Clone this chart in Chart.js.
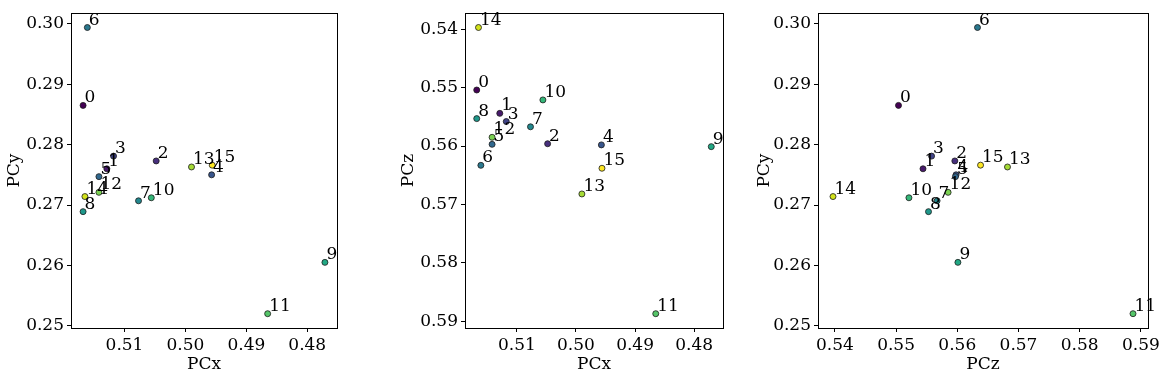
<!DOCTYPE html>
<html>
<head>
<meta charset="utf-8">
<script src="https://cdn.jsdelivr.net/npm/chart.js@4"></script>
<style>
  body { margin: 0; background: #fff; width: 1165px; height: 381px; position: relative; overflow: hidden; }
  .panel { position: absolute; top: 0; height: 381px; }
</style>
</head>
<body>
<div class="panel" style="left:0px;width:345px"><canvas id="c1" width="345" height="381"></canvas></div>
<div class="panel" style="left:380px;width:350px"><canvas id="c2" width="350" height="381"></canvas></div>
<div class="panel" style="left:745px;width:420px"><canvas id="c3" width="420" height="381"></canvas></div>
<script>
// point ids 0..15
var ids = [0, 1, 2, 3, 4, 5, 6, 7, 8, 9, 10, 11, 12, 13, 14, 15];
var pcx = [0.5168, 0.5129, 0.5048, 0.5118, 0.4957, 0.5142, 0.5161, 0.5077,
           0.5168, 0.4771, 0.5056, 0.4865, 0.5142, 0.4990, 0.5165, 0.4956];
var pcy = [0.2865, 0.2760, 0.2773, 0.2781, 0.2750, 0.2747, 0.2994, 0.2707,
           0.2689, 0.2605, 0.2712, 0.2520, 0.2721, 0.2763, 0.2714, 0.2766];
var pcz = [0.5504, 0.5544, 0.5596, 0.5558, 0.5598, 0.5597, 0.5633, 0.5567,
           0.5553, 0.5601, 0.5521, 0.5887, 0.5585, 0.5682, 0.5397, 0.5638];

var pcxTicks = [0.51, 0.50, 0.49, 0.48];
var pcyTicks = [0.25, 0.26, 0.27, 0.28, 0.29, 0.30];
var pczTicks = [0.54, 0.55, 0.56, 0.57, 0.58, 0.59];

// viridis sampled at i/15
var viridis = ['#440154', '#481a6c', '#472f7d', '#414487', '#39568c', '#31688e',
               '#2a788e', '#23888e', '#1f988b', '#22a884', '#35b779', '#54c568',
               '#7ad151', '#a5db36', '#d2e21b', '#fde725'];

var FONT = "'DejaVu Serif', serif";

function limits(arr) {
  var lo = Math.min.apply(null, arr), hi = Math.max.apply(null, arr);
  var m = (hi - lo) * 0.05;
  return [lo - m, hi + m];
}

var labelPlugin = {
  id: 'pointLabels',
  afterDatasetsDraw: function(chart) {
    var ctx = chart.ctx;
    var meta = chart.getDatasetMeta(0);
    ctx.save();
    ctx.fillStyle = '#000';
    ctx.font = '17px ' + FONT;
    ctx.textAlign = 'left';
    ctx.textBaseline = 'alphabetic';
    meta.data.forEach(function(pt, i) {
      ctx.fillText(String(ids[i]), pt.x + 1.5, pt.y - 3);
    });
    ctx.restore();
  }
};

var framePlugin = {
  id: 'frame',
  afterDraw: function(chart) {
    var a = chart.chartArea, ctx = chart.ctx;
    ctx.save();
    ctx.strokeStyle = '#000';
    ctx.lineWidth = 1;
    ctx.strokeRect(Math.round(a.left) + 0.5, Math.round(a.top) + 0.5,
                   Math.round(a.right - a.left), Math.round(a.bottom - a.top));
    ctx.restore();
  }
};

function makeScatter(id, xs, ys, xTicks, yTicks, xName, yName, opt) {
  var xl = limits(xs), yl = limits(ys);
  var pts = xs.map(function(v, i) { return { x: v, y: ys[i] }; });
  function axis(ticks, lim, name, reverse, horiz) {
    return {
      type: 'linear',
      reverse: reverse,
      min: lim[0],
      max: lim[1],
      afterBuildTicks: function(s) { s.ticks = ticks.map(function(v) { return { value: v }; }); },
      afterFit: function(s) {
        if (horiz) { s.height = opt.xHeight; } else { s.width = opt.yWidth; }
      },
      grid: { display: true, drawOnChartArea: false, drawTicks: true, tickLength: 4, color: '#000', lineWidth: 1 },
      border: { display: true, color: '#000', width: 1 },
      ticks: {
        padding: 3,
        color: '#000',
        autoSkip: false,
        maxRotation: 0,
        font: { family: FONT, size: 17 },
        callback: function(v) { return v.toFixed(2); }
      },
      title: {
        display: true,
        text: name,
        color: '#000',
        font: { family: FONT, size: 17, lineHeight: 1.2 },
        padding: horiz ? { top: 0, bottom: 6 } : { top: opt.yTitlePad, bottom: 0 }
      }
    };
  }
  return new Chart(document.getElementById(id), {
    type: 'scatter',
    data: {
      datasets: [{
        data: pts,
        pointBackgroundColor: viridis,
        pointBorderColor: '#1a1a1a',
        pointBorderWidth: 0.8,
        pointRadius: 3,
        pointHoverRadius: 3
      }]
    },
    options: {
      responsive: false,
      animation: false,
      events: [],
      layout: { padding: { top: 11, right: opt.padRight, left: 0, bottom: 0 } },
      plugins: { legend: { display: false }, tooltip: { enabled: false } },
      scales: {
        x: axis(xTicks, xl, xName, opt.xReverse, true),
        y: axis(yTicks, yl, yName, opt.yReverse, false)
      }
    },
    plugins: [labelPlugin, framePlugin]
  });
}

makeScatter('c1', pcx, pcy, pcxTicks, pcyTicks, 'PCx', 'PCy',
  { yWidth: 71, xHeight: 53, padRight: 8, yTitlePad: 4, xReverse: true, yReverse: false });
makeScatter('c2', pcx, pcz, pcxTicks, pczTicks, 'PCx', 'PCz',
  { yWidth: 85, xHeight: 53, padRight: 7, yTitlePad: 18, xReverse: true, yReverse: true });
makeScatter('c3', pcz, pcy, pczTicks, pcyTicks, 'PCz', 'PCy',
  { yWidth: 73, xHeight: 53, padRight: 17, yTitlePad: 9, xReverse: false, yReverse: false });
</script>
</body>
</html>
